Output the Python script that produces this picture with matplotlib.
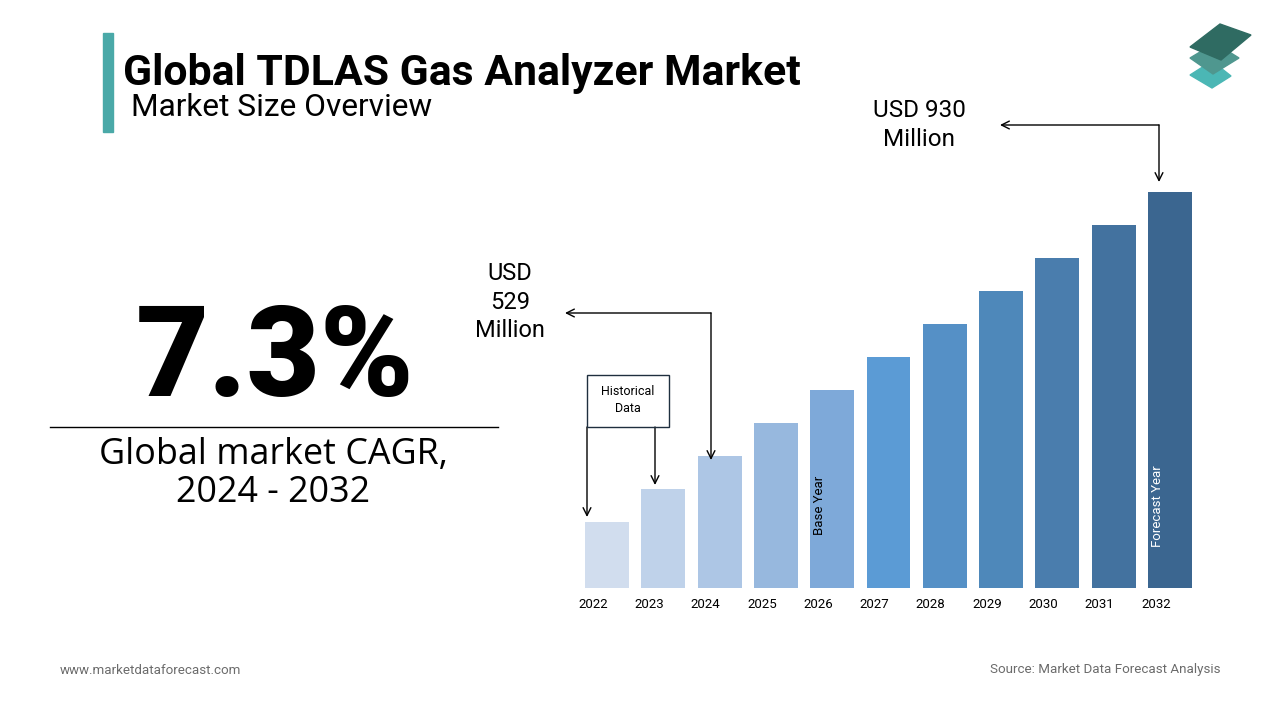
import matplotlib.pyplot as plt
from matplotlib.patches import Polygon, Rectangle
from matplotlib.transforms import ScaledTranslation

# chart data
years = ['2022', '2023', '2024', '2025', '2026', '2027', '2028', '2029', '2030', '2031', '2032']
bar_height = [2, 3, 4, 5, 6, 7, 8, 9, 10, 11, 12]
bar_colors = ['#d1ddee', '#bfd2ea', '#adc6e5', '#97b8de', '#7ea9d9', '#5b9bd5',
              '#5590c6', '#4e88ba', '#4a7dad', '#43729f', '#3b6690']
cagr = '7.3%'
start_label = 'USD\n529\nMillion'
end_label = 'USD 930\nMillion'

plt.rcParams['font.family'] = ['Roboto', 'DejaVu Sans']

fig = plt.figure(figsize=(12.8, 7.2), dpi=100)
W, H = 1280, 720

def fx(x):
    return x / W

def fy(y):
    return 1 - y / H

# header
fig.patches.append(Rectangle((fx(103), fy(132)), fx(10), 99 / H, transform=fig.transFigure,
                             color='#4aa9a8'))
fig.text(fx(123), fy(73), 'Global TDLAS Gas Analyzer Market', fontsize=30.8, fontweight='bold',
         va='center', ha='left')
fig.text(fx(131), fy(108), 'Market Size Overview', fontsize=22.8, va='center', ha='left')

# logo
logo = [
    ([(1190, 75), (1212, 61), (1231, 76), (1212, 88)], '#4bb7b5'),
    ([(1190, 58), (1215, 43), (1239, 58), (1213, 74)], '#4f978f'),
    ([(1190, 47), (1220, 24), (1251, 35), (1221, 60)], '#2f6b62'),
]
for pts, c in logo:
    fig.patches.append(Polygon([(fx(a), fy(b)) for a, b in pts], closed=True,
                               transform=fig.transFigure, color=c))

# CAGR block
fig.text(fx(275), fy(362), cagr, fontsize=91, fontweight='black', ha='center', va='center')
fig.lines.append(plt.Line2D([fx(50), fx(498)], [fy(427), fy(427)], transform=fig.transFigure,
                            color='black', lw=1))
fig.text(fx(273), fy(455), 'Global market CAGR,', fontsize=25.8, ha='center', va='center',
         family='Open Sans')
fig.text(fx(273), fy(493), '2024 - 2032', fontsize=25.8, ha='center', va='center',
         family='Open Sans')

# bar chart
ax = fig.add_axes([fx(579), fy(588), 619 / W, 396 / H])
x = range(len(years))
ax.bar(x, bar_height, width=0.78, color=bar_colors)
ax.set_xlim(-0.5, len(years) - 0.5)
ax.set_ylim(0, 12)
ax.set_xticks(list(x))
ax.set_xticklabels(years, fontsize=9.5)
ax.tick_params(length=0, pad=7)
shift = ScaledTranslation(-14 / 100, 0, fig.dpi_scale_trans)
for lbl in ax.get_xticklabels():
    lbl.set_transform(lbl.get_transform() + shift)
ax.set_yticks([])
for s in ax.spines.values():
    s.set_visible(False)

ax.text(4 - 0.22, 1.6, 'Base Year', rotation=90, fontsize=9.5, ha='center', va='bottom')
ax.text(10 - 0.22, 1.25, 'Forecast Year', rotation=90, fontsize=9.5, ha='center', va='bottom',
        color='white')

# annotations (figure coords)
arrow = dict(arrowstyle='->', color='black', lw=1, shrinkA=0, shrinkB=0, mutation_scale=14)
box_kw = dict(xycoords='figure fraction', textcoords='figure fraction', arrowprops=arrow)

fig.patches.append(Rectangle((fx(587), fy(427)), 82 / W, 52 / H, transform=fig.transFigure,
                             fill=False, ec='#1f2f3f', lw=1))
fig.text(fx(628), fy(400), 'Historical\nData', fontsize=9, ha='center', va='center',
         linespacing=1.4)
ax.annotate('', xy=(fx(587), fy(517)), xytext=(fx(587), fy(427)), **box_kw)
ax.annotate('', xy=(fx(655), fy(485)), xytext=(fx(655), fy(427)), **box_kw)

ax.annotate('', xy=(fx(565), fy(313)), xytext=(fx(711), fy(313)), **box_kw)
ax.annotate('', xy=(fx(711), fy(460)), xytext=(fx(711), fy(313)), **box_kw)
fig.text(fx(510), fy(302), start_label, fontsize=17, ha='center', va='center', linespacing=1.33)

ax.annotate('', xy=(fx(1000), fy(125)), xytext=(fx(1159), fy(125)), **box_kw)
ax.annotate('', xy=(fx(1159), fy(182)), xytext=(fx(1159), fy(125)), **box_kw)
fig.text(fx(919), fy(125), end_label, fontsize=17.5, ha='center', va='center', linespacing=1.3)

# footer
fig.text(fx(60), fy(670), 'www.marketdataforecast.com', fontsize=9.6, color='#6b6b6b',
         va='center', ha='left')
fig.text(fx(1220), fy(670), 'Source: Market Data Forecast Analysis', fontsize=9.6, color='#6b6b6b',
         va='center', ha='right')

fig.savefig('out.png', dpi=100, facecolor='white')
